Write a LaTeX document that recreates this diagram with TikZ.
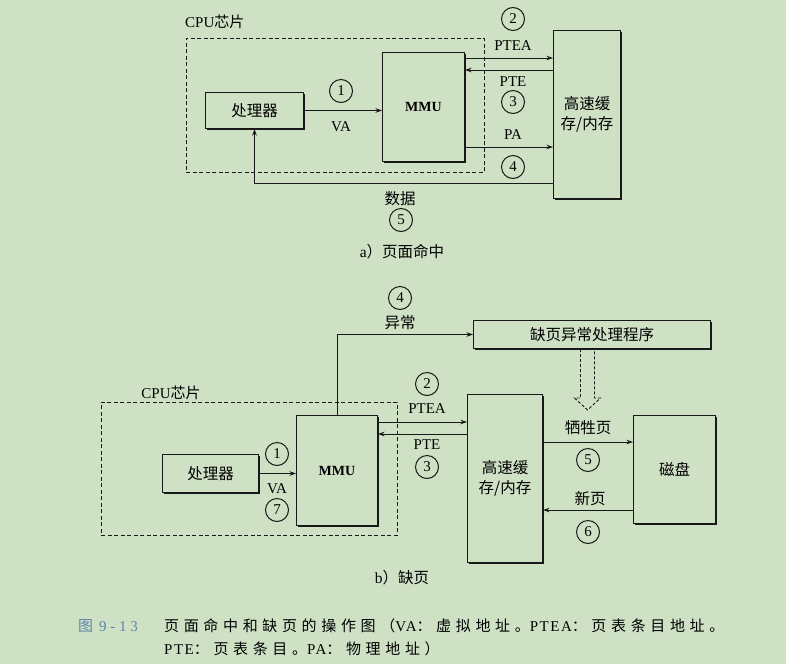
\documentclass[tikz,border=0pt]{standalone}
\usepackage{fontspec}
\setmainfont{Liberation Serif}
\newfontfamily\cjk{Noto Sans CJK SC}
\newfontfamily\cjkwide[LetterSpace=31]{Noto Sans CJK SC}
\newfontfamily\serifwide[LetterSpace=10]{Liberation Serif}
\newfontfamily\numwide[LetterSpace=25]{Liberation Serif}
\usetikzlibrary{arrows.meta,shadows}
\definecolor{paper}{RGB}{207,225,197}
\definecolor{ink}{RGB}{24,24,24}
\definecolor{figno}{RGB}{96,132,168}

\tikzset{
  box/.style={draw=ink, line width=1pt, fill=paper, inner sep=0pt, anchor=north west,
    drop shadow={shadow xshift=1.8pt, shadow yshift=-1.8pt, fill=ink, opacity=1},
    align=center, font=\cjk\fontsize{15.5}{20}\selectfont},
  chip/.style={draw=ink, line width=0.9pt, dash pattern=on 4pt off 2.5pt,
    inner sep=0pt, anchor=north west},
  link/.style={draw=ink, line width=1pt, -{Stealth[length=6.5pt,width=4.5pt]}},
  num/.style={circle, draw=ink, line width=1pt, minimum size=23pt, inner sep=0pt,
    font=\fontsize{15}{15}\selectfont},
  lbl/.style={inner sep=0pt, font=\fontsize{15}{17}\selectfont},
  zh/.style={inner sep=0pt, font=\cjk\fontsize{15.5}{17}\selectfont},
  sub/.style={inner sep=0pt, font=\fontsize{15.5}{17}\selectfont},
  mmu/.style={font=\bfseries\fontsize{14}{16}\selectfont},
}

\begin{document}
\begin{tikzpicture}[x=1pt, y=-1pt]
  \fill[paper] (0,0) rectangle (786,664);
  \useasboundingbox (0,0) rectangle (786,664);

  % ---------- (a) page hit ----------
  \node[chip, minimum width=298pt, minimum height=134pt] (chipA) at (186,38) {};
  \node[lbl, anchor=west] (chipAlbl) at (185,22) {CPU{\cjk 芯片}};
  \node[box, minimum width=98pt, minimum height=36pt] (cpuA) at (205,92) {处理器};
  \node[box, mmu, minimum width=82pt, minimum height=109pt] (mmuA) at (382,52) {MMU};
  \node[box, minimum width=67pt, minimum height=168pt] (cacheA) at (553,30) {高速缓\\存/内存};

  \coordinate (pteaA) at (0,58);
  \coordinate (pteA)  at (0,70);
  \coordinate (paA)   at (0,147);
  \coordinate (dataA) at (0,183);

  \draw[link] (cpuA.east) -- (mmuA.west |- cpuA.east);
  \draw[link] (mmuA.east |- pteaA) -- (cacheA.west |- pteaA);
  \draw[link] (cacheA.west |- pteA) -- (mmuA.east |- pteA);
  \draw[link] (mmuA.east |- paA) -- (cacheA.west |- paA);
  \draw[link] (cacheA.west |- dataA) -| (cpuA.south);

  \node[num] (n1a) at (341,91) {1};
  \node[lbl] (vaA) at (341,127) {VA};
  \node[num] (n2a) at (513,19) {2};
  \node[lbl] (pteaAlbl) at (513,46) {PTEA};
  \node[lbl] (pteAlbl) at (513,82) {PTE};
  \node[num] (n3a) at (513,102) {3};
  \node[lbl] (paAlbl) at (513,135) {PA};
  \node[num] (n4a) at (513,167) {4};
  \node[zh] (dataAlbl) at (400,199) {数据};
  \node[num] (n5a) at (401,220) {5};

  \node[sub] (capA) at (402,252) {a{\cjk ）页面命中}};

  % ---------- (b) page fault ----------
  \node[num] (n4b) at (400,298) {4};
  \node[zh] (excB) at (400,323) {异常};
  \node[box, minimum width=237pt, minimum height=28pt] (handler) at (473,320) {缺页异常处理程序};

  \node[chip, minimum width=296pt, minimum height=133pt] (chipB) at (101,402) {};
  \node[lbl] (chipBlbl) at (171,393) {CPU{\cjk 芯片}};
  \node[box, minimum width=96pt, minimum height=38pt] (cpuB) at (162,454) {处理器};
  \node[box, mmu, minimum width=81pt, minimum height=110pt] (mmuB) at (296,415) {MMU};
  \node[box, minimum width=75pt, minimum height=168pt] (cacheB) at (467,394) {高速缓\\存/内存};
  \node[box, minimum width=82pt, minimum height=108pt] (disk) at (633,415) {磁盘};

  \coordinate (pteaB)   at (0,422);
  \coordinate (pteB)    at (0,434);
  \coordinate (victimB) at (0,442);
  \coordinate (newB)    at (0,510);

  \draw[link] (mmuB.north) |- (handler.west);
  \draw[link] (cpuB.east) -- (mmuB.west |- cpuB.east);
  \draw[link] (mmuB.east |- pteaB) -- (cacheB.west |- pteaB);
  \draw[link] (cacheB.west |- pteB) -- (mmuB.east |- pteB);
  \draw[link] (cacheB.east |- victimB) -- (disk.west |- victimB);
  \draw[link] (disk.west |- newB) -- (cacheB.east |- newB);

  % hollow dashed arrow from the handler down towards the page transfer
  \draw[ink, line width=0.9pt, dash pattern=on 3pt off 2pt]
    ([xshift=-11.5pt]handler.south) -- ++(0,49) -- ++(-6,0) -- ++(13,12)
    -- ++(13,-12) -- ++(-6,0) -- ([xshift=2.5pt]handler.south);

  \node[num] (n1b) at (277,454) {1};
  \node[lbl] (vaB) at (277,489) {VA};
  \node[num] (n7b) at (277,510) {7};
  \node[num] (n2b) at (427,384) {2};
  \node[lbl] (pteaBlbl) at (427,409) {PTEA};
  \node[lbl] (pteBlbl) at (427,445) {PTE};
  \node[num] (n3b) at (427,467) {3};
  \node[zh] (victimlbl) at (588,428) {牺牲页};
  \node[num] (n5b) at (588,460) {5};
  \node[zh] (newlbl) at (590,499) {新页};
  \node[num] (n6b) at (588,532) {6};

  \node[sub] (capB) at (402,578) {b{\cjk ）缺页}};

  % ---------- caption ----------
  \node[inner sep=0pt, anchor=west, text=figno, font=\fontsize{15}{17}\selectfont]
    (figno) at (78,626) {{\cjk 图}\hspace{6pt}{\numwide 9-13}};
  \node[inner sep=0pt, anchor=west, font=\fontsize{15}{17}\selectfont] (cap1) at (164,626)
    {{\cjkwide 页面命中和缺页的操作图（}{\serifwide VA}{\cjkwide ：虚拟地址。}{\serifwide PTEA}{\cjkwide ：页表条目地址。}};
  \node[inner sep=0pt, anchor=west, font=\fontsize{15}{17}\selectfont] (cap2) at (164,649)
    {{\serifwide PTE}{\cjkwide ：页表条目。}{\serifwide PA}{\cjkwide ：物理地址）}};
\end{tikzpicture}
\end{document}
